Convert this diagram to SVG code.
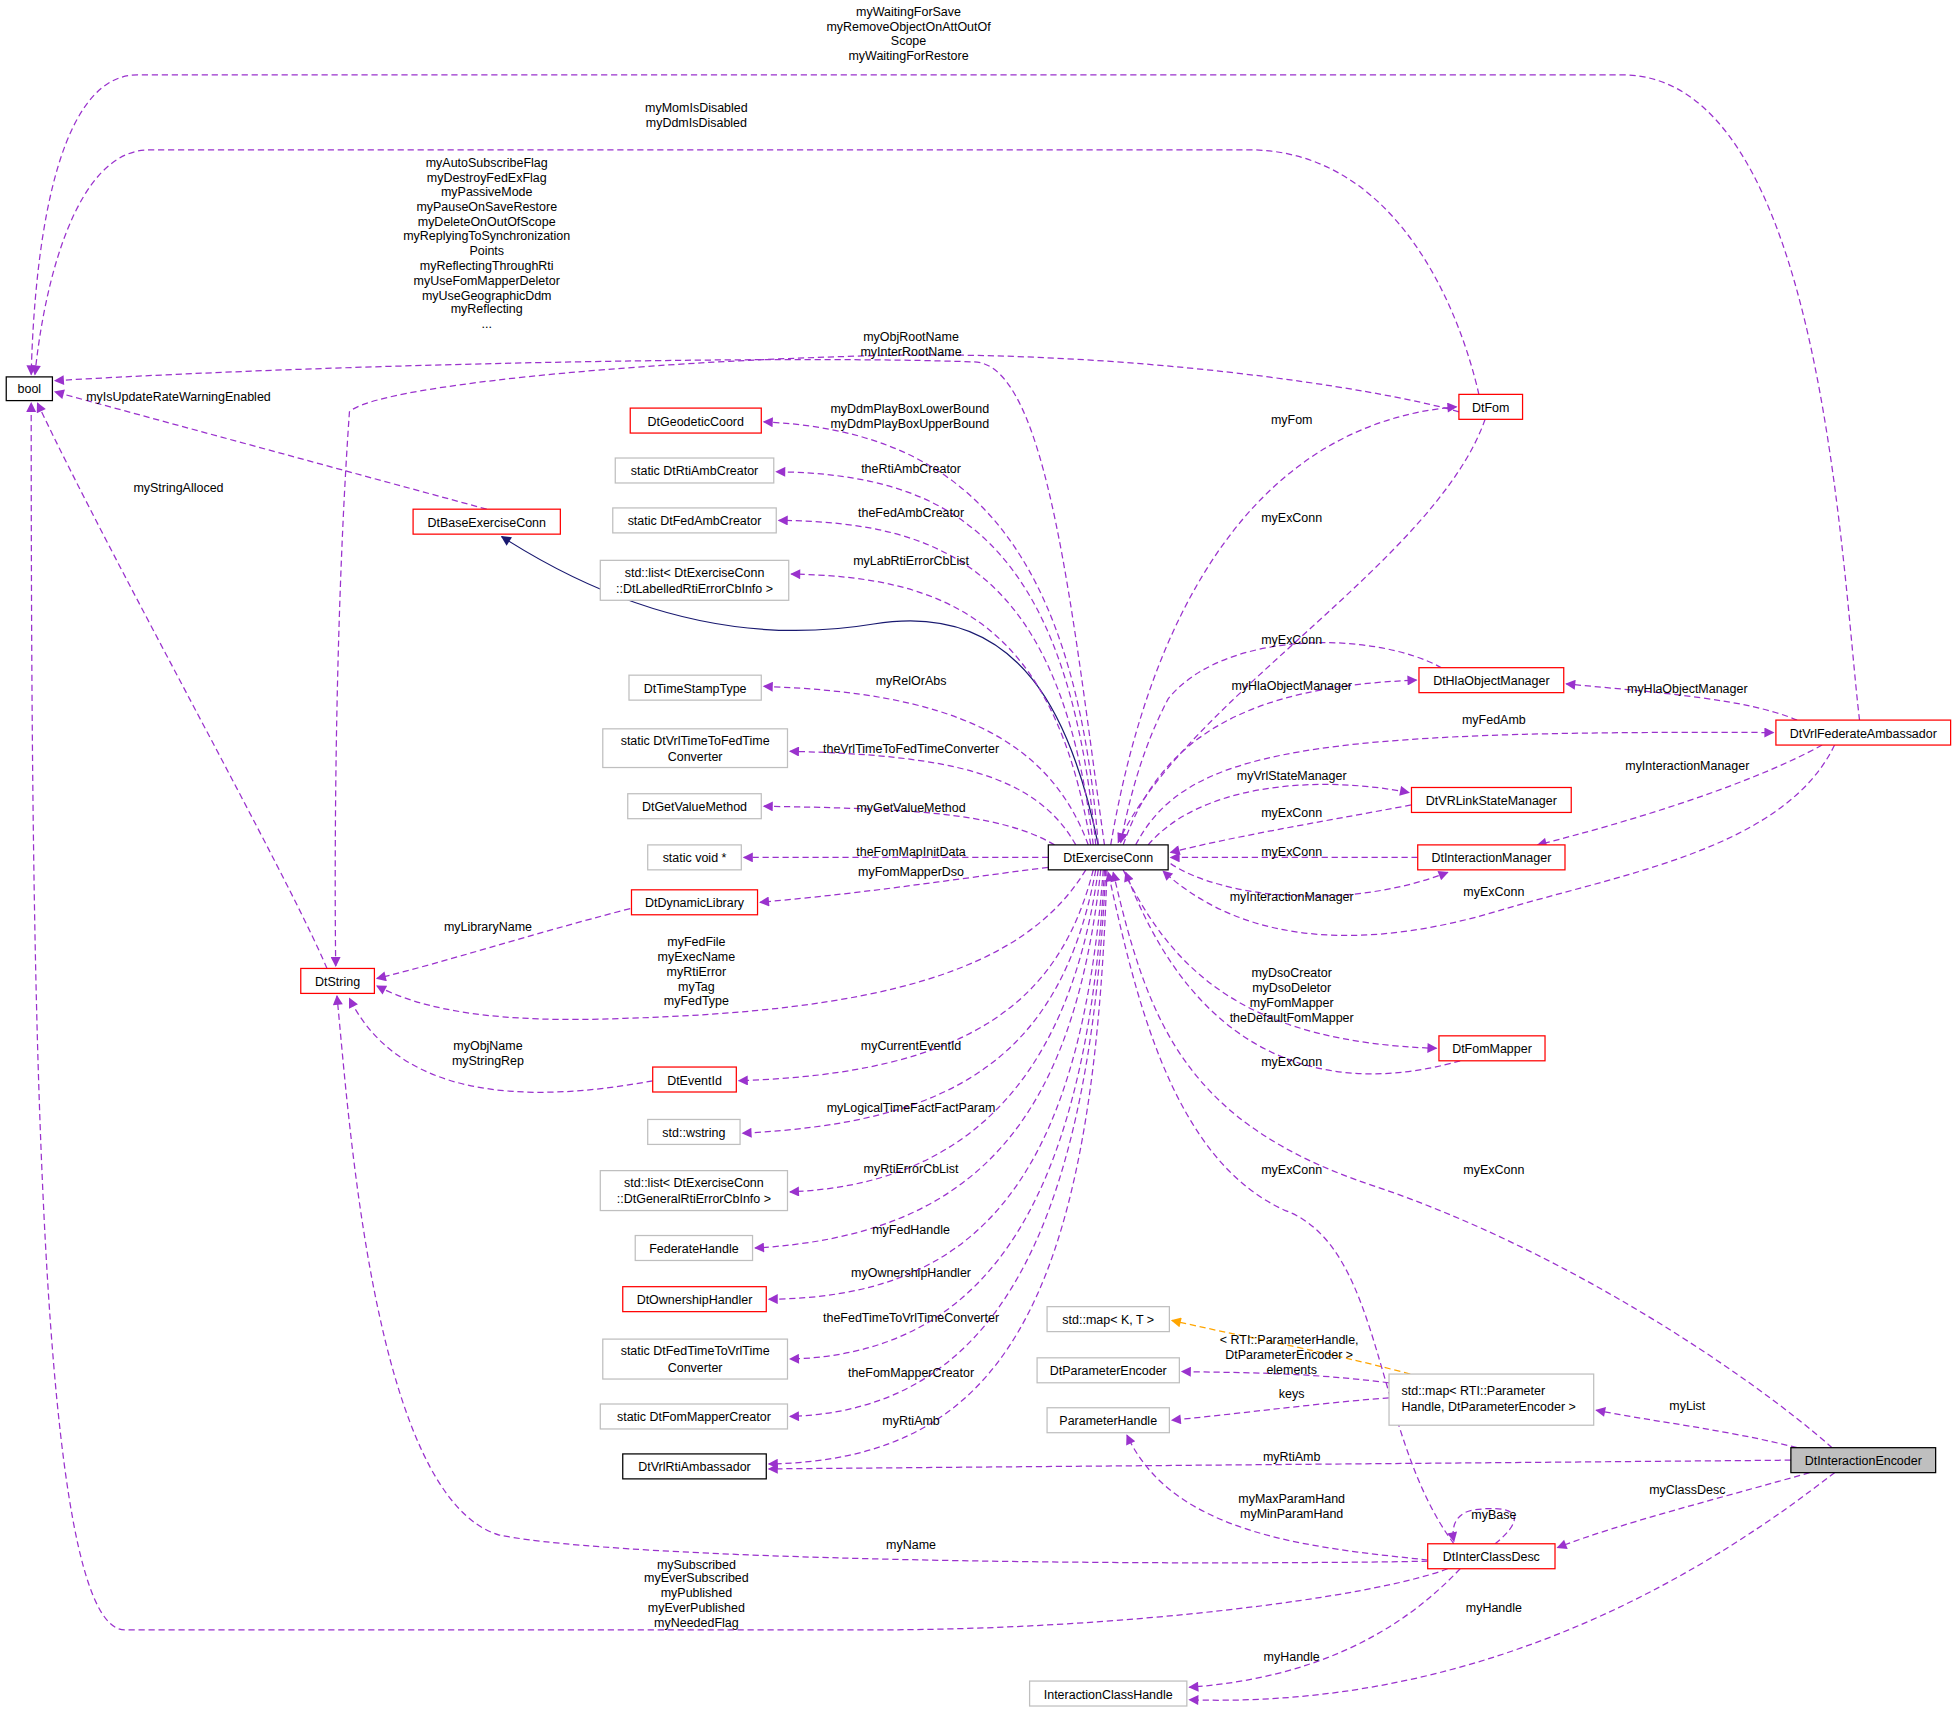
<svg xmlns="http://www.w3.org/2000/svg" width="1957" height="1713" viewBox="0 0 1957 1713">
<style>
text{font-family:"Liberation Sans",Arial,sans-serif;font-size:10px;fill:#000}
.n rect{fill:#fff;stroke-width:1}
.r rect{stroke:#ff0000}.g rect{stroke:#bfbfbf}.b rect{stroke:#000}
.e{fill:none;stroke:#9a32cd;stroke-dasharray:5,3;marker-end:url(#pa)}
.l{text-anchor:middle}
</style>
<defs>
<marker id="pa" viewBox="0 0 10 10" refX="9" refY="5" markerWidth="10" markerHeight="8" orient="auto" markerUnits="userSpaceOnUse"><path d="M0,0L10,5L0,10z" fill="#9a32cd"/></marker>
<marker id="oa" viewBox="0 0 10 10" refX="9" refY="5" markerWidth="10" markerHeight="8" orient="auto" markerUnits="userSpaceOnUse"><path d="M0,0L10,5L0,10z" fill="#ffa500"/></marker>
<marker id="na" viewBox="0 0 10 10" refX="9" refY="5" markerWidth="10" markerHeight="8" orient="auto" markerUnits="userSpaceOnUse"><path d="M0,0L10,5L0,10z" fill="#191970"/></marker>
</defs>
<rect width="1957" height="1713" fill="#fff"/>
<g transform="scale(1.248)">
<g id="connectors">
<path class="e" d="M1490,577 C1475,450 1460,60 1300,60 L110,60 C40,60 27,220 25,300"/>
<path class="e" d="M1185,316 C1170,250 1120,120 1000,120 L120,120 C60,120 35,230 28,300"/>
<path class="e" d="M885,677 C860,500 840,290 780,290 C650,285 300,290 44,305"/>
<path class="e" d="M390,408 L44,314"/>
<path class="e" d="M262,776 C230,700 90,450 30,323"/>
<path class="e" d="M1169,330 C1100,310 900,280 700,285 C500,290 300,310 280,330 C268,500 268,700 269,774"/>
<path d="M880,677 C860,580 820,480 700,500 C580,520 480,480 402,430" fill="none" stroke="#191970" marker-end="url(#na)"/>
<path class="e" d="M880,677 C860,420 760,345 612,338"/>
<path class="e" d="M878,677 C855,430 760,380 622,378"/>
<path class="e" d="M876,677 C850,460 760,418 624,417"/>
<path class="e" d="M874,677 C845,500 760,462 634,460"/>
<path class="e" d="M872,677 C840,590 760,555 612,550"/>
<path class="e" d="M862,677 C830,620 760,605 633,602"/>
<path class="e" d="M845,677 C800,650 720,648 612,646"/>
<path class="e" d="M840,687 L596,687"/>
<path class="e" d="M840,695 C760,705 700,715 609,723"/>
<path class="e" d="M505,728 C420,750 360,770 302,784"/>
<path class="e" d="M870,697 C820,780 700,810 500,816 C400,820 340,810 302,790"/>
<path class="e" d="M523,866 C420,885 320,880 280,800"/>
<path class="e" d="M876,697 C850,800 780,860 592,866"/>
<path class="e" d="M878,697 C850,850 760,900 595,908"/>
<path class="e" d="M880,697 C855,880 760,950 633,955"/>
<path class="e" d="M882,697 C860,900 780,990 605,1000"/>
<path class="e" d="M884,697 C865,950 780,1040 616,1041"/>
<path class="e" d="M885,697 C870,980 780,1085 633,1089"/>
<path class="e" d="M886,697 C872,1000 790,1130 633,1135"/>
<path class="e" d="M887,697 C876,1050 800,1170 616,1173"/>
<path class="e" d="M1435,1170 L616,1177"/>
<path class="e" d="M890,677 C920,500 1000,340 1167,326"/>
<path class="e" d="M1190,336 C1150,450 950,560 896,675"/>
<path class="e" d="M1155,535 C1100,505 980,505 936,560 C915,600 905,640 898,675"/>
<path class="e" d="M900,677 C930,590 1000,550 1135,545"/>
<path class="e" d="M910,677 C950,600 1050,585 1421,587"/>
<path class="e" d="M1440,577 C1400,560 1330,555 1255,548"/>
<path class="e" d="M1460,597 C1400,630 1300,660 1232,677"/>
<path class="e" d="M920,677 C960,630 1050,620 1129,635"/>
<path class="e" d="M1131,645 C1050,660 990,670 938,683"/>
<path class="e" d="M1136,687 L938,687"/>
<path class="e" d="M938,692 C980,720 1080,730 1160,699"/>
<path class="e" d="M1470,597 C1430,680 1300,700 1200,730 C1100,760 1000,760 932,698"/>
<path class="e" d="M900,697 C940,780 1000,835 1151,840"/>
<path class="e" d="M1170,850 C1100,870 970,880 902,699"/>
<path class="e" d="M1165,1237 C1100,1150 1110,1000 1030,970 C940,930 910,800 888,699"/>
<path class="e" d="M1468,1160 C1400,1100 1250,1000 1100,950 C950,900 920,820 892,699"/>
<path d="M1130,1101 C1050,1080 990,1070 939,1058" fill="none" stroke="#ffa500" stroke-dasharray="5,3" marker-end="url(#oa)"/>
<path class="e" d="M1113,1108 C1050,1100 1000,1100 947,1099"/>
<path class="e" d="M1113,1120 C1050,1125 1000,1132 939,1138"/>
<path class="e" d="M1440,1160 C1380,1145 1330,1140 1279,1130"/>
<path class="e" d="M1450,1180 C1380,1200 1300,1220 1248,1240"/>
<path class="e" d="M1198,1237 C1225,1215 1215,1205 1180,1210 C1165,1213 1163,1225 1165,1235"/>
<path class="e" d="M1144,1250 C1050,1240 940,1230 903,1150"/>
<path class="e" d="M1144,1251 C900,1255 500,1250 400,1230 C300,1200 280,900 270,798"/>
<path class="e" d="M1160,1257 C1100,1280 900,1306 700,1306 L100,1306 C30,1306 25,800 25,323"/>
<path class="e" d="M1170,1257 C1120,1310 1050,1345 953,1352"/>
<path class="e" d="M1470,1180 C1380,1250 1200,1370 953,1362"/>
</g>
<g id="labels" class="l">
<text x="728" y="13" class="l">myWaitingForSave</text><text x="728" y="25" class="l">myRemoveObjectOnAttOutOf</text><text x="728" y="36" class="l">Scope</text><text x="728" y="48" class="l">myWaitingForRestore</text>
<text x="558" y="90" class="l">myMomIsDisabled</text><text x="558" y="102" class="l">myDdmIsDisabled</text>
<text x="390" y="134" class="l">myAutoSubscribeFlag</text><text x="390" y="146" class="l">myDestroyFedExFlag</text><text x="390" y="157" class="l">myPassiveMode</text><text x="390" y="169" class="l">myPauseOnSaveRestore</text><text x="390" y="181" class="l">myDeleteOnOutOfScope</text><text x="390" y="192" class="l">myReplyingToSynchronization</text><text x="390" y="204" class="l">Points</text><text x="390" y="216" class="l">myReflectingThroughRti</text><text x="390" y="228" class="l">myUseFomMapperDeletor</text><text x="390" y="240" class="l">myUseGeographicDdm</text><text x="390" y="251" class="l">myReflecting</text><text x="390" y="263" class="l">...</text>
<text x="730" y="273" class="l">myObjRootName</text><text x="730" y="285" class="l">myInterRootName</text>
<text x="143" y="321" class="l">myIsUpdateRateWarningEnabled</text>
<text x="143" y="394" class="l">myStringAlloced</text>
<text x="729" y="331" class="l">myDdmPlayBoxLowerBound</text><text x="729" y="343" class="l">myDdmPlayBoxUpperBound</text>
<text x="730" y="379" class="l">theRtiAmbCreator</text>
<text x="730" y="414" class="l">theFedAmbCreator</text>
<text x="730" y="453" class="l">myLabRtiErrorCbList</text>
<text x="730" y="549" class="l">myRelOrAbs</text>
<text x="730" y="603" class="l">theVrlTimeToFedTimeConverter</text>
<text x="730" y="651" class="l">myGetValueMethod</text>
<text x="730" y="686" class="l">theFomMapInitData</text>
<text x="730" y="702" class="l">myFomMapperDso</text>
<text x="391" y="746" class="l">myLibraryName</text>
<text x="558" y="758" class="l">myFedFile</text><text x="558" y="770" class="l">myExecName</text><text x="558" y="782" class="l">myRtiError</text><text x="558" y="794" class="l">myTag</text><text x="558" y="805" class="l">myFedType</text>
<text x="391" y="841" class="l">myObjName</text><text x="391" y="853" class="l">myStringRep</text>
<text x="730" y="841" class="l">myCurrentEventId</text>
<text x="730" y="891" class="l">myLogicalTimeFactFactParam</text>
<text x="730" y="940" class="l">myRtiErrorCbList</text>
<text x="730" y="989" class="l">myFedHandle</text>
<text x="730" y="1023" class="l">myOwnershipHandler</text>
<text x="730" y="1059" class="l">theFedTimeToVrlTimeConverter</text>
<text x="730" y="1103" class="l">theFomMapperCreator</text>
<text x="730" y="1142" class="l">myRtiAmb</text>
<text x="1035" y="1171" class="l">myRtiAmb</text>
<text x="1035" y="340" class="l">myFom</text>
<text x="1035" y="418" class="l">myExConn</text>
<text x="1035" y="516" class="l">myExConn</text>
<text x="1035" y="553" class="l">myHlaObjectManager</text>
<text x="1197" y="580" class="l">myFedAmb</text>
<text x="1352" y="555" class="l">myHlaObjectManager</text>
<text x="1352" y="617" class="l">myInteractionManager</text>
<text x="1035" y="625" class="l">myVrlStateManager</text>
<text x="1035" y="655" class="l">myExConn</text>
<text x="1035" y="686" class="l">myExConn</text>
<text x="1035" y="722" class="l">myInteractionManager</text>
<text x="1197" y="718" class="l">myExConn</text>
<text x="1035" y="783" class="l">myDsoCreator</text><text x="1035" y="795" class="l">myDsoDeletor</text><text x="1035" y="807" class="l">myFomMapper</text><text x="1035" y="819" class="l">theDefaultFomMapper</text>
<text x="1035" y="854" class="l">myExConn</text>
<text x="1035" y="941" class="l">myExConn</text>
<text x="1197" y="941" class="l">myExConn</text>
<text x="1033" y="1077" class="l">&lt; RTI::ParameterHandle,</text><text x="1033" y="1089" class="l">DtParameterEncoder &gt;</text>
<text x="1035" y="1101" class="l">elements</text>
<text x="1035" y="1120" class="l">keys</text>
<text x="1352" y="1130" class="l">myList</text>
<text x="1352" y="1197" class="l">myClassDesc</text>
<text x="1197" y="1217" class="l">myBase</text>
<text x="1035" y="1204" class="l">myMaxParamHand</text><text x="1035" y="1216" class="l">myMinParamHand</text>
<text x="730" y="1241" class="l">myName</text>
<text x="558" y="1257" class="l">mySubscribed</text><text x="558" y="1268" class="l">myEverSubscribed</text><text x="558" y="1280" class="l">myPublished</text><text x="558" y="1292" class="l">myEverPublished</text><text x="558" y="1304" class="l">myNeededFlag</text>
<text x="1035" y="1331" class="l">myHandle</text>
<text x="1197" y="1292" class="l">myHandle</text>
</g>
<g id="bool" class="n b"><rect x="5" y="302" width="37" height="19"/><text x="23.5" y="315" class="l">bool</text></g>
<g id="DtBaseExerciseConn" class="n r"><rect x="331" y="408" width="118" height="20"/><text x="390" y="422" class="l">DtBaseExerciseConn</text></g>
<g id="DtString" class="n r"><rect x="241" y="776" width="59" height="20"/><text x="270.5" y="790" class="l">DtString</text></g>
<g id="DtGeodeticCoord" class="n r"><rect x="505" y="327" width="105" height="20"/><text x="557.5" y="341" class="l">DtGeodeticCoord</text></g>
<g id="DtRtiAmbCreator" class="n g"><rect x="493" y="367" width="127" height="20"/><text x="556.5" y="381" class="l">static DtRtiAmbCreator</text></g>
<g id="DtFedAmbCreator" class="n g"><rect x="491" y="407" width="131" height="20"/><text x="556.5" y="421" class="l">static DtFedAmbCreator</text></g>
<g id="LabList" class="n g"><rect x="481" y="449" width="151" height="32"/><text x="556.5" y="462" class="l">std::list&lt; DtExerciseConn</text><text x="556.5" y="475" class="l">::DtLabelledRtiErrorCbInfo &gt;</text></g>
<g id="DtTimeStampType" class="n g"><rect x="504" y="541" width="106" height="20"/><text x="557" y="555" class="l">DtTimeStampType</text></g>
<g id="VrlToFed" class="n g"><rect x="483" y="584" width="148" height="31"/><text x="557" y="597" class="l">static DtVrlTimeToFedTime</text><text x="557" y="610" class="l">Converter</text></g>
<g id="DtGetValueMethod" class="n g"><rect x="503" y="636" width="107" height="20"/><text x="556.5" y="650" class="l">DtGetValueMethod</text></g>
<g id="voidp" class="n g"><rect x="519" y="677" width="75" height="20"/><text x="556.5" y="691" class="l">static void *</text></g>
<g id="DtDynamicLibrary" class="n r"><rect x="506" y="713" width="101" height="20"/><text x="556.5" y="727" class="l">DtDynamicLibrary</text></g>
<g id="DtEventId" class="n r"><rect x="523" y="855" width="67" height="20"/><text x="556.5" y="869" class="l">DtEventId</text></g>
<g id="wstring" class="n g"><rect x="519" y="897" width="74" height="20"/><text x="556" y="911" class="l">std::wstring</text></g>
<g id="GenList" class="n g"><rect x="481" y="938" width="150" height="32"/><text x="556" y="951" class="l">std::list&lt; DtExerciseConn</text><text x="556" y="964" class="l">::DtGeneralRtiErrorCbInfo &gt;</text></g>
<g id="FederateHandle" class="n g"><rect x="509" y="990" width="94" height="20"/><text x="556" y="1004" class="l">FederateHandle</text></g>
<g id="DtOwnershipHandler" class="n r"><rect x="499" y="1031" width="115" height="20"/><text x="556.5" y="1045" class="l">DtOwnershipHandler</text></g>
<g id="FedToVrl" class="n g"><rect x="483" y="1073" width="148" height="32"/><text x="557" y="1086" class="l">static DtFedTimeToVrlTime</text><text x="557" y="1099" class="l">Converter</text></g>
<g id="FomMapperCreator" class="n g"><rect x="481" y="1125" width="150" height="20"/><text x="556" y="1139" class="l">static DtFomMapperCreator</text></g>
<g id="DtVrlRtiAmbassador" class="n b"><rect x="499" y="1165" width="115" height="20"/><text x="556.5" y="1179" class="l">DtVrlRtiAmbassador</text></g>
<g id="DtExerciseConn" class="n b"><rect x="840" y="677" width="96" height="20"/><text x="888" y="691" class="l">DtExerciseConn</text></g>
<g id="DtFom" class="n r"><rect x="1169" y="316" width="51" height="20"/><text x="1194.5" y="330" class="l">DtFom</text></g>
<g id="DtHlaObjectManager" class="n r"><rect x="1137" y="535" width="116" height="20"/><text x="1195" y="549" class="l">DtHlaObjectManager</text></g>
<g id="DtVrlFederateAmbassador" class="n r"><rect x="1423" y="577" width="140" height="20"/><text x="1493" y="591" class="l">DtVrlFederateAmbassador</text></g>
<g id="DtVRLinkStateManager" class="n r"><rect x="1131" y="631" width="128" height="20"/><text x="1195" y="645" class="l">DtVRLinkStateManager</text></g>
<g id="DtInteractionManager" class="n r"><rect x="1136" y="677" width="118" height="20"/><text x="1195" y="691" class="l">DtInteractionManager</text></g>
<g id="DtFomMapper" class="n r"><rect x="1153" y="830" width="85" height="20"/><text x="1195.5" y="844" class="l">DtFomMapper</text></g>
<g id="mapKT" class="n g"><rect x="839" y="1047" width="98" height="20"/><text x="888" y="1061" class="l">std::map&lt; K, T &gt;</text></g>
<g id="DtParameterEncoder" class="n g"><rect x="831" y="1088" width="114" height="20"/><text x="888" y="1102" class="l">DtParameterEncoder</text></g>
<g id="mapParam" class="n g"><rect x="1113" y="1101" width="164" height="41"/><text x="1123" y="1118">std::map&lt; RTI::Parameter</text><text x="1123" y="1131">Handle, DtParameterEncoder &gt;</text></g>
<g id="ParameterHandle" class="n g"><rect x="839" y="1128" width="98" height="20"/><text x="888" y="1142" class="l">ParameterHandle</text></g>
<g id="DtInteractionEncoder"><rect x="1435" y="1160" width="116" height="20" fill="#bfbfbf" stroke="#000"/><text x="1493" y="1174" class="l">DtInteractionEncoder</text></g>
<g id="DtInterClassDesc" class="n r"><rect x="1144" y="1237" width="102" height="20"/><text x="1195" y="1251" class="l">DtInterClassDesc</text></g>
<g id="InteractionClassHandle" class="n g"><rect x="825" y="1347" width="126" height="20"/><text x="888" y="1361" class="l">InteractionClassHandle</text></g>
</g>
</svg>
